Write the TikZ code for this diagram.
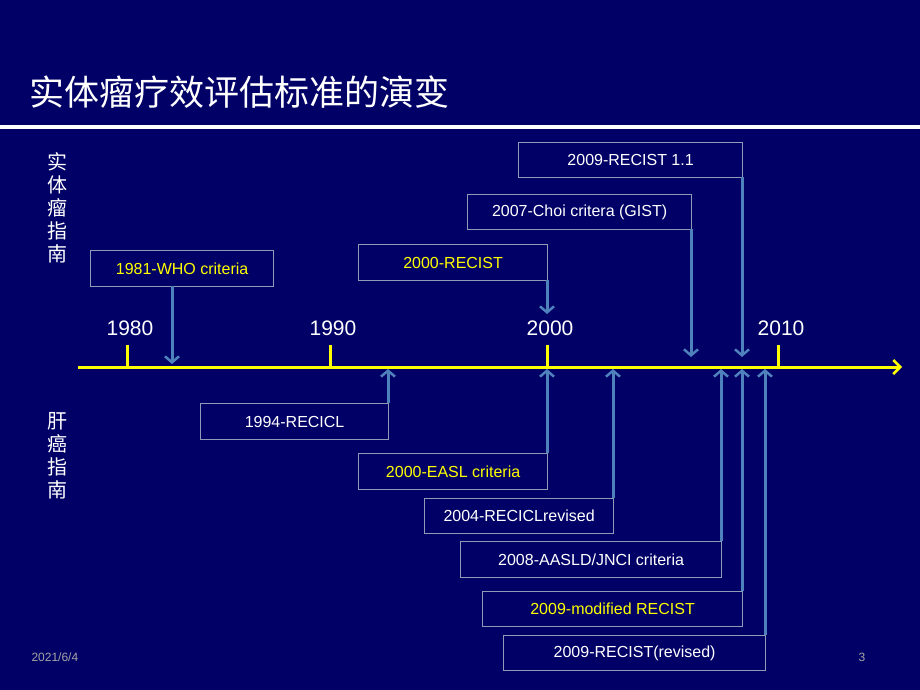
\documentclass[tikz,border=0pt]{standalone}
\usepackage{fontspec}
\setmainfont{Liberation Sans}
\newfontfamily\cjk{Noto Sans CJK SC}
\usetikzlibrary{arrows.meta}
\definecolor{bg}{HTML}{000066}
\definecolor{ax}{HTML}{FFFF00}
\definecolor{arr}{HTML}{4F81BD}
\definecolor{bd}{HTML}{8C9CB4}
\definecolor{yt}{HTML}{FFFF00}
\tikzset{
  lbl/.style={draw=bd,line width=1.2pt,fill=bg,text=white,font=\fontsize{16}{18}\selectfont,anchor=north west,inner sep=0pt,align=center},
  up/.style={draw=arr,line width=3pt,-{Straight Barb[length=6pt,width=14pt,line width=2.5pt]}},
  yr/.style={text=white,font=\fontsize{21}{24}\selectfont}
}
\begin{document}
\begin{tikzpicture}[x=1pt,y=-1pt]
\fill[bg] (0,0) rectangle (920,690);
\useasboundingbox (0,0) rectangle (920,690);
\node[anchor=west,text=white,font=\cjk\fontsize{35}{40}\selectfont] (title) at (26,92) {实体瘤疗效评估标准的演变};
\draw[white,line width=4pt] (0,127) -- (920,127);
\node[text=white,font=\cjk\fontsize{20}{23}\selectfont,align=center] (v1) at (57,208) {实\\体\\瘤\\指\\南};
\node[text=white,font=\cjk\fontsize{20}{23}\selectfont,align=center] (v2) at (57,456) {肝\\癌\\指\\南};
% axis
\coordinate (a0) at (78,367);
\coordinate (a1) at (902,367);
\draw[ax,line width=3pt,-{Straight Barb[length=7pt,width=14pt,line width=2.5pt]}] (a0) -- (a1);
\foreach \x/\y in {127/1980,330/1990,547/2000,778/2010}{
  \draw[ax,line width=3pt] (\x,345) -- (\x,367);
  \node[yr] at (\x+3,328) {\y};
}
% top boxes
\node[lbl,minimum width=183pt,minimum height=36pt,text=yt] (who) at (90,250) {1981-WHO criteria};
\node[lbl,minimum width=189pt,minimum height=36pt,text=yt] (rec) at (358,244) {2000-RECIST};
\node[lbl,minimum width=224pt,minimum height=35pt] (choi) at (467,194) {2007-Choi critera (GIST)};
\node[lbl,minimum width=224pt,minimum height=35pt] (r11) at (518,142) {2009-RECIST 1.1};
\draw[up] (172,286) -- (172,364);
\draw[up] (547,280) -- (547,314);
\draw[up] (691,229) -- (691,357);
\draw[up] (742,177) -- (742,357);
% bottom boxes
\node[lbl,minimum width=188pt,minimum height=36pt] (b1) at (200,403) {1994-RECICL};
\node[lbl,minimum width=189pt,minimum height=36pt,text=yt] (b2) at (358,453) {2000-EASL criteria};
\node[lbl,minimum width=189pt,minimum height=35pt] (b3) at (424,498) {2004-RECICLrevised};
\node[lbl,minimum width=261pt,minimum height=36pt] (b4) at (460,541) {2008-AASLD/JNCI criteria};
\node[lbl,minimum width=260pt,minimum height=35pt,text=yt] (b5) at (482,591) {2009-modified RECIST};
\node[lbl,minimum width=262pt,minimum height=35pt] (b6) at (503,635) {2009-RECIST(revised)};
\draw[up] (388,403) -- (388,369);
\draw[up] (547,453) -- (547,369);
\draw[up] (613,498) -- (613,369);
\draw[up] (721,541) -- (721,369);
\draw[up] (742,591) -- (742,369);
\draw[up] (765,635) -- (765,369);
\node[anchor=west,text=gray!70,font=\fontsize{12}{14}\selectfont] (date) at (28,657) {2021/6/4};
\node[text=gray!70,font=\fontsize{12}{14}\selectfont] (pg) at (862,657) {3};
\end{tikzpicture}
\end{document}
